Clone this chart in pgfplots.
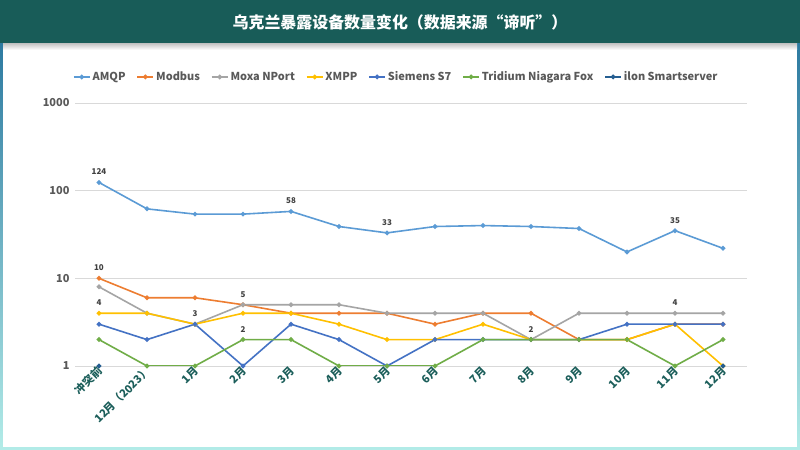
\documentclass[border=0pt]{standalone}
\usepackage{pgfplots}
\pgfplotsset{compat=1.18}
\usepackage{fontspec}
\setmainfont{Noto Sans CJK SC}
\definecolor{banner}{HTML}{185C58}
\definecolor{frametop}{HTML}{1F6E99}
\definecolor{framebot}{HTML}{B3ECE8}
\definecolor{ticktxt}{HTML}{595959}
\definecolor{xtxt}{HTML}{1B5E5A}
\definecolor{cAMQP}{HTML}{5B9BD5}
\definecolor{cModbus}{HTML}{ED7D31}
\definecolor{cMoxa}{HTML}{A5A5A5}
\definecolor{cXMPP}{HTML}{FFC000}
\definecolor{cS7}{HTML}{4472C4}
\definecolor{cFox}{HTML}{70AD47}
\definecolor{cIlon}{HTML}{255E91}
\begin{document}
\begin{tikzpicture}
\useasboundingbox (0,0) rectangle (800bp,450bp);
\shade[top color=frametop, bottom color=framebot] (0,0) rectangle (800bp,450bp);
\fill[white] (3bp,3bp) rectangle (797bp,407bp);
\shade[top color=black!25, bottom color=white] (3bp,400bp) rectangle (797bp,407bp);
\fill[banner] (0,407bp) rectangle (800bp,450bp);
\node[text=white, font=\fontsize{16}{18}\selectfont\bfseries] at (400bp,428bp) {乌克兰暴露设备数量变化（数据来源“谛听”）};
\begin{axis}[
  at={(75bp,84bp)}, anchor=south west,
  scale only axis, width=672bp, height=263bp,
  ymode=log, ymin=1, ymax=1000,
  xmin=-0.5, xmax=13.5,
  xtick={0,...,13},
  xticklabels={冲突前,12月（2023）,1月,2月,3月,4月,5月,6月,7月,8月,9月,10月,11月,12月},
  ytick={1,10,100,1000},
  yticklabels={1,10,100,1000},
  minor ytick={},
  /pgf/number format/assume math mode=true,
  axis line style={draw=none},
  major tick length=0pt, minor tick length=0pt,
  tick style={draw=none},
  ytick pos=left, xtick pos=bottom,
  ymajorgrids, grid style={color=black!15, line width=0.6pt},
  yticklabel style={font=\fontsize{11}{12}\selectfont\bfseries, text=ticktxt, xshift=-2bp},
  xticklabel style={font=\fontsize{11}{12}\selectfont\bfseries, text=xtxt, rotate=45, anchor=east, xshift=2bp, yshift=-3bp},
  every axis plot/.append style={line width=1.6pt, mark=*, mark size=1.5pt},
  unbounded coords=jump,
  legend columns=-1,
  legend style={draw=none, at={(0.478,1.099)}, anchor=center, font=\fontsize{11}{12}\selectfont\bfseries, text=ticktxt, /tikz/every even column/.append style={column sep=9bp}},
  legend image code/.code={\draw[mark repeat=2,mark phase=2,#1] plot coordinates {(0bp,0bp)(8bp,0bp)(16bp,0bp)};},
]
\addplot[color=cAMQP, mark options={fill=cAMQP}] coordinates {(0,124)(1,62)(2,54)(3,54)(4,58)(5,39)(6,33)(7,39)(8,40)(9,39)(10,37)(11,20)(12,35)(13,22)};
\addlegendentry{AMQP}
\addplot[color=cModbus, mark options={fill=cModbus}] coordinates {(0,10)(1,6)(2,6)(3,5)(4,4)(5,4)(6,4)(7,3)(8,4)(9,4)(10,2)(11,2)(12,3)(13,3)};
\addlegendentry{Modbus}
\addplot[color=cMoxa, mark options={fill=cMoxa}] coordinates {(0,8)(1,4)(2,3)(3,5)(4,5)(5,5)(6,4)(7,4)(8,4)(9,2)(10,4)(11,4)(12,4)(13,4)};
\addlegendentry{Moxa NPort}
\addplot[color=cXMPP, mark options={fill=cXMPP}] coordinates {(0,4)(1,4)(2,3)(3,4)(4,4)(5,3)(6,2)(7,2)(8,3)(9,2)(10,2)(11,2)(12,3)(13,1)};
\addlegendentry{XMPP}
\addplot[color=cS7, mark options={fill=cS7}] coordinates {(0,3)(1,2)(2,3)(3,1)(4,3)(5,2)(6,1)(7,2)(8,2)(9,2)(10,2)(11,3)(12,3)(13,3)};
\addlegendentry{Siemens S7}
\addplot[color=cFox, mark options={fill=cFox}] coordinates {(0,2)(1,1)(2,1)(3,2)(4,2)(5,1)(6,1)(7,1)(8,2)(9,2)(10,2)(11,2)(12,1)(13,2)};
\addlegendentry{Tridium Niagara Fox}
\addplot[color=cIlon, mark options={fill=cIlon}] coordinates {(0,1)(1,nan)(13,1)};
\addlegendentry{ilon Smartserver}
\tikzset{dl/.style={font=\fontsize{8}{9}\selectfont\bfseries, text=black!75, anchor=south, yshift=4bp}}
\node[dl] at (axis cs:0,124) {124};
\node[dl] at (axis cs:4,58) {58};
\node[dl] at (axis cs:6,33) {33};
\node[dl] at (axis cs:12,35) {35};
\node[dl] at (axis cs:0,10) {10};
\node[dl] at (axis cs:0,4) {4};
\node[dl] at (axis cs:2,3) {3};
\node[dl] at (axis cs:3,5) {5};
\node[dl] at (axis cs:3,2) {2};
\node[dl] at (axis cs:9,2) {2};
\node[dl] at (axis cs:12,4) {4};
\end{axis}
\end{tikzpicture}
\end{document}
